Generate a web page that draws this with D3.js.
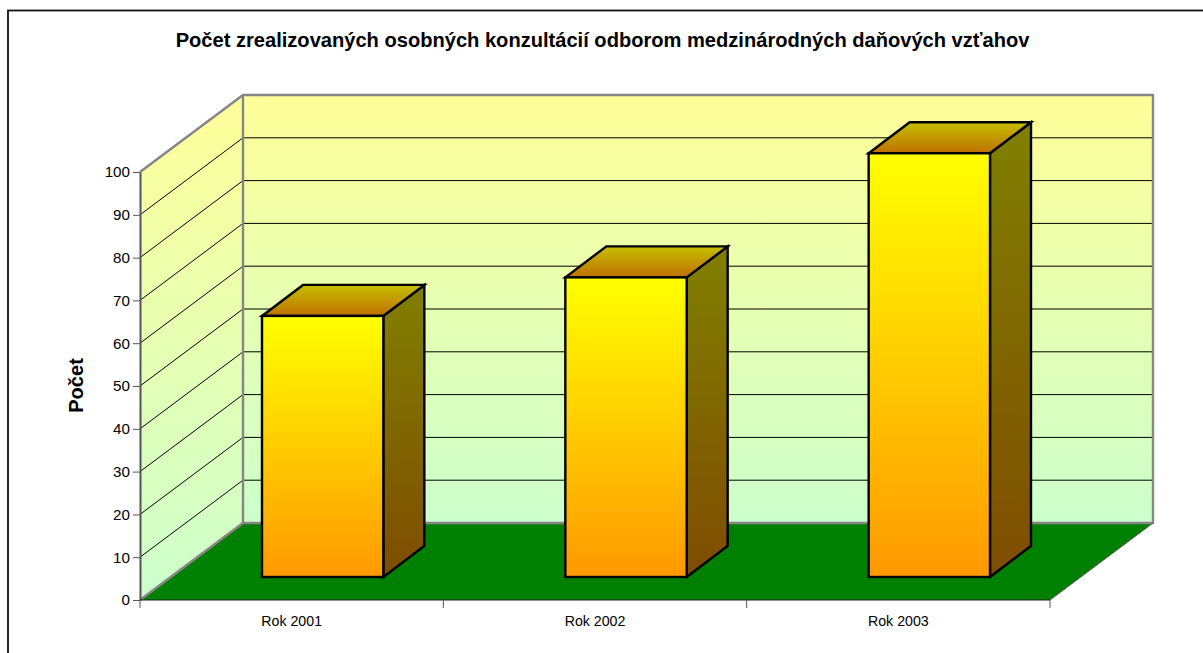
<!DOCTYPE html>
<html><head><meta charset="utf-8">
<script src="https://cdnjs.cloudflare.com/ajax/libs/d3/7.8.5/d3.min.js"></script>
<style>html,body{margin:0;padding:0;background:#fff;overflow:hidden}svg{display:block}text{font-family:"Liberation Sans",Arial,sans-serif;fill:#000}</style>
</head><body><script>
const categories=["Rok 2001","Rok 2002","Rok 2003"];
const values=[61,70,99];
const yTicks=[0,10,20,30,40,50,60,70,80,90,100];
const chartTitle="Počet zrealizovaných osobných konzultácií odborom medzinárodných daňových vzťahov";
const yTitle="Počet";

const W=1203,H=653;
const svg=d3.select("body").append("svg").attr("width",W).attr("height",H);
const defs=svg.append("defs");
function grad(id,c1,c2){const g=defs.append("linearGradient").attr("id",id).attr("x1",0).attr("y1",0).attr("x2",0).attr("y2",1);
 g.append("stop").attr("offset",0).attr("stop-color",c1);g.append("stop").attr("offset",1).attr("stop-color",c2);}
grad("wall","#ffff99","#ccffcc");grad("front","#ffff00","#ff9900");grad("side","#808000","#7f4c00");grad("top","#c6bf00","#bf7000");

const y=d3.scaleLinear().domain([0,100]).range([600,172]);
const x=d3.scaleBand().domain(categories).range([140,1050]);
const depthX=103,depthY=77;
const barW=x.bandwidth()*0.4;
const pts=a=>a.map(p=>p.join(",")).join(" ");

// outer frame (runs off the window to the right and bottom)
svg.append("rect").attr("x",8).attr("y",10.5).attr("width",W+20).attr("height",H+20).attr("fill","none").attr("stroke","#111").attr("stroke-width",1.8);

svg.append("text").attr("x",602.5).attr("y",47).attr("text-anchor","middle").attr("font-size",20.1).attr("font-weight","bold").text(chartTitle);

const x0=140,x1=1050,y0=y(0),yT=y(100);
// walls
svg.append("polygon").attr("points",pts([[x0,yT],[x0+depthX,yT-depthY],[x0+depthX,y0-depthY],[x0,y0]])).attr("fill","url(#wall)");
svg.append("polygon").attr("points",pts([[x0+depthX,yT-depthY],[x1+depthX,yT-depthY],[x1+depthX,y0-depthY],[x0+depthX,y0-depthY]])).attr("fill","url(#wall)");
// floor
svg.append("polygon").attr("points",pts([[x0,y0],[x1,y0],[x1+depthX,y0-depthY],[x0+depthX,y0-depthY]])).attr("fill","#008000");

// gridlines
const gridTicks=yTicks.filter(t=>t>0&&t<100);
svg.append("g").selectAll("polyline").data(gridTicks).join("polyline")
 .attr("points",d=>pts([[x0,y(d)],[x0+depthX,y(d)-depthY],[x1+depthX,y(d)-depthY]]))
 .attr("fill","none").attr("stroke","#000").attr("stroke-width",1);

// wall borders
const gray="#868686";
svg.append("polyline").attr("points",pts([[x0,yT],[x0+depthX,yT-depthY],[x1+depthX,yT-depthY],[x1+depthX,y0-depthY],[x0+depthX,y0-depthY],[x0,y0]]))
 .attr("fill","none").attr("stroke",gray).attr("stroke-width",2.4);
svg.append("line").attr("x1",x0+depthX).attr("x2",x0+depthX).attr("y1",yT-depthY).attr("y2",y0-depthY).attr("stroke",gray).attr("stroke-width",2.4);
svg.append("line").attr("x1",x1).attr("y1",y0).attr("x2",x1+depthX).attr("y2",y0-depthY).attr("stroke","#555").attr("stroke-width",1);

// bars
const dxFront=31,dyFront=23,bx=41,by=31;
const bars=svg.append("g").selectAll("g").data(categories.map((c,i)=>({c,v:values[i]}))).join("g");
const stroke={stroke:"#000","stroke-width":2.4,"stroke-linejoin":"miter"};
function st(s){for(const k in stroke)s.attr(k,stroke[k]);return s;}
bars.each(function(d){
 const g=d3.select(this);
 const l=x(d.c)+dxFront+(x.bandwidth()-barW)/2, r=l+barW, b=y0-dyFront, t=b-(y(0)-y(d.v));
 st(g.append("polygon").attr("points",pts([[r,t],[r+bx,t-by],[r+bx,b-by],[r,b]])).attr("fill","url(#side)"));
 st(g.append("polygon").attr("points",pts([[l,t],[l+bx,t-by],[r+bx,t-by],[r,t]])).attr("fill","url(#top)"));
 st(g.append("rect").attr("x",l).attr("y",t).attr("width",barW).attr("height",b-t).attr("fill","url(#front)"));
});

// axes
const axisCol="#555";
const yAxis=svg.append("g").attr("transform",`translate(${x0},0)`).call(d3.axisLeft(y).tickValues(yTicks).tickSize(7).tickPadding(3).tickSizeOuter(0));
yAxis.select(".domain").attr("stroke",axisCol).attr("stroke-width",2);
yAxis.selectAll("line").attr("stroke",axisCol);
yAxis.selectAll("text").attr("font-size",15.2).attr("font-family",'"Liberation Sans",Arial,sans-serif').attr("fill","#222");

svg.append("line").attr("x1",x0).attr("x2",x1).attr("y1",y0).attr("y2",y0).attr("stroke","#222").attr("stroke-width",1.2);
const xAxis=svg.append("g").attr("transform",`translate(0,${y0})`).call(d3.axisBottom(x).tickSize(0).tickPadding(16));
xAxis.select(".domain").remove();
xAxis.selectAll("text").attr("font-size",14.2).attr("font-family",'"Liberation Sans",Arial,sans-serif').attr("fill","#222");
svg.append("g").selectAll("line").data(d3.range(categories.length+1)).join("line")
 .attr("x1",i=>x0+i*x.step()).attr("x2",i=>x0+i*x.step()).attr("y1",y0).attr("y2",y0+8).attr("stroke",axisCol);

svg.append("text").attr("transform","translate(83,385.5) rotate(-90)").attr("text-anchor","middle").attr("font-size",20.1).attr("font-weight","bold").text(yTitle);
</script></body></html>
